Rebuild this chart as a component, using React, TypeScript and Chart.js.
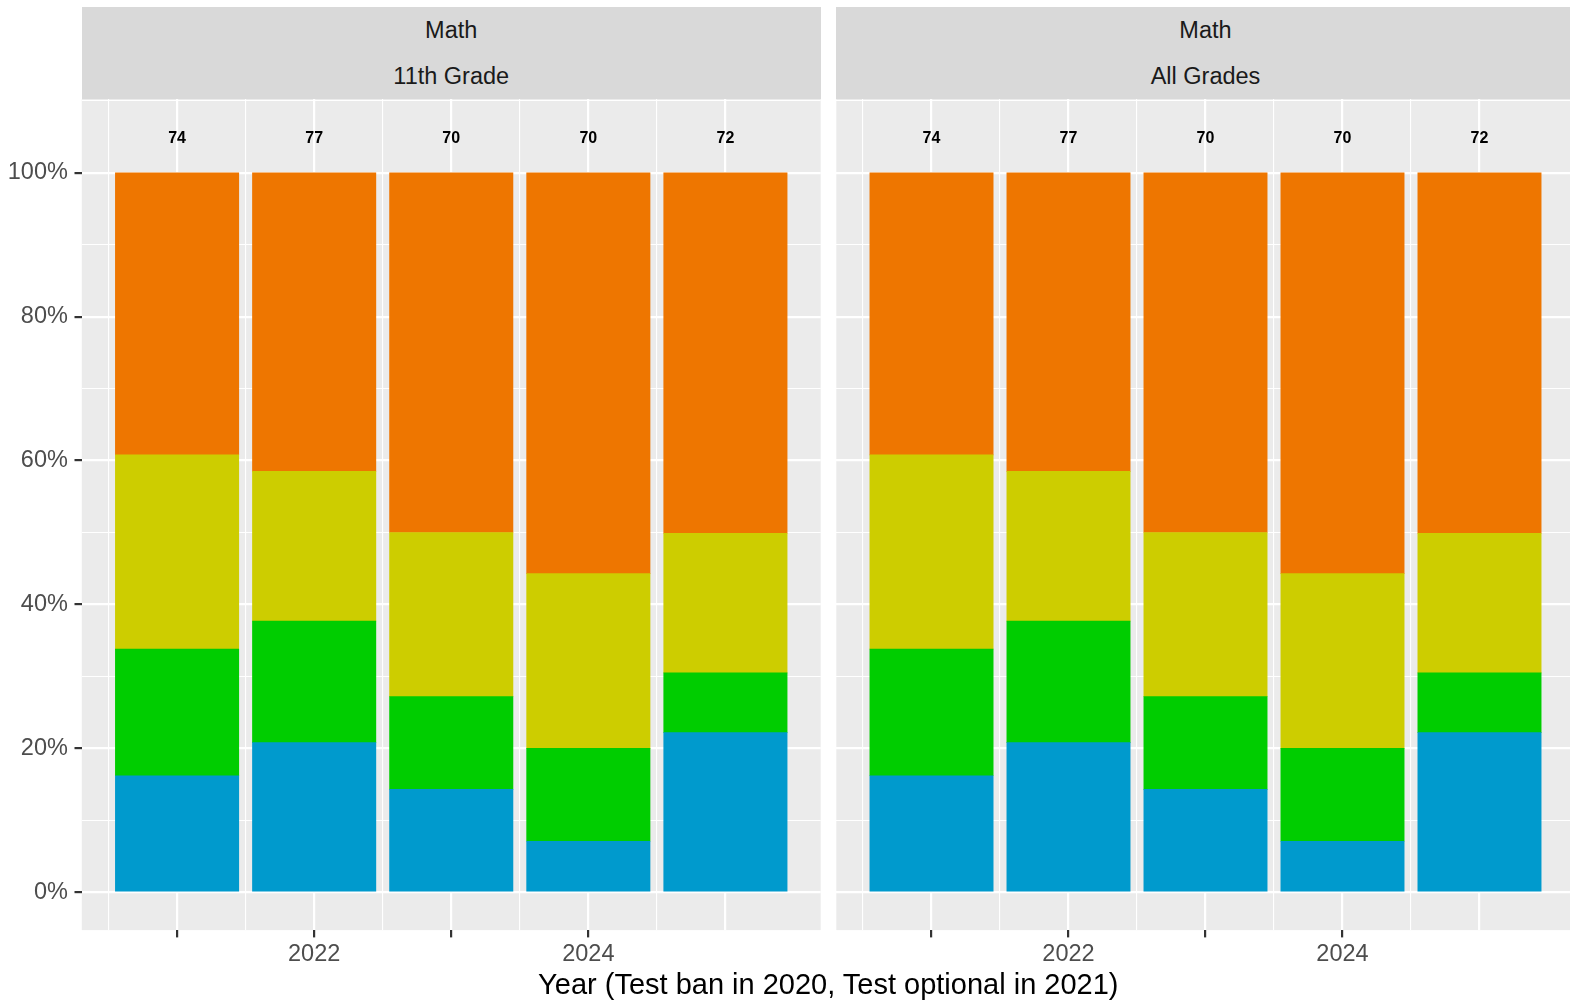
import React, { useEffect, useRef } from 'react';
import { Chart, registerables } from 'chart.js';

Chart.register(...registerables);

// ---- Data ----
const years = [2021, 2022, 2023, 2024, 2025];
const counts = [74, 77, 70, 70, 72];
const blueShare = [16.2, 20.8, 14.3, 7.1, 22.2];
const greenShare = [17.6, 16.9, 12.9, 12.9, 8.3];
const yellowShare = [27.0, 20.8, 22.8, 24.3, 19.4];
const orangeShare = [39.2, 41.5, 50.0, 55.7, 50.1];
const seriesColors = ['#009ACD', '#00CD00', '#CDCD00', '#EE7600'];
const facetTop = ['Math', 'Math'];
const facetBottom = ['11th Grade', 'All Grades'];
const xLabelYears = [2022, 2024];
const xTickYears = [2021, 2022, 2023, 2024];
const yMajor = [0, 20, 40, 60, 80, 100];
const yMinor = [10, 30, 50, 70, 90, 110];
const xMajor = [2021, 2022, 2023, 2024, 2025];
const xMinor = [2020.5, 2021.5, 2022.5, 2023.5, 2024.5];
const xTitle = 'Year (Test ban in 2020, Test optional in 2021)';

const FONT = "'Liberation Sans', Arial, Helvetica, sans-serif";

type PanelProps = {
  left: number;
  top: number;
  width: number;
  height: number;
  yAxisWidth: number;
  padRight: number;
  padTop: number;
  xAxisHeight: number;
  showY: boolean;
};

function Panel(p: PanelProps) {
  const ref = useRef<HTMLCanvasElement | null>(null);
  useEffect(() => {
    if (!ref.current) return;
    const shares = [blueShare, greenShare, yellowShare, orangeShare];
    const datasets = shares.map((arr, i) => ({
      label: 's' + i,
      data: years.map((y, j) => ({ x: y, y: arr[j] })),
      backgroundColor: seriesColors[i],
      borderWidth: 0,
      barThickness: 'flex',
      barPercentage: 0.9,
      categoryPercentage: 1.0,
    }));
    const bgPlugin = {
      id: 'panelBg',
      beforeDraw(chart: any) {
        const { ctx, chartArea } = chart;
        ctx.save();
        ctx.fillStyle = '#EBEBEB';
        ctx.fillRect(chartArea.left, chartArea.top, chartArea.right - chartArea.left, chartArea.bottom - chartArea.top);
        ctx.restore();
      },
    };
    const countPlugin = {
      id: 'counts',
      afterDatasetsDraw(chart: any) {
        const { ctx } = chart;
        const xs = chart.scales.x;
        const ys = chart.scales.y;
        ctx.save();
        ctx.fillStyle = '#000000';
        ctx.font = `bold 16px ${FONT}`;
        ctx.textAlign = 'center';
        ctx.textBaseline = 'alphabetic';
        years.forEach((yr, i) => {
          ctx.fillText(String(counts[i]), xs.getPixelForValue(yr), ys.getPixelForValue(105) + 6.2);
        });
        ctx.restore();
      },
    };
    const chart = new Chart(ref.current, {
      type: 'bar',
      data: { datasets: datasets as any },
      plugins: [bgPlugin, countPlugin],
      options: {
        animation: false,
        responsive: false,
        maintainAspectRatio: false,
        layout: { padding: { left: 0, right: p.padRight, top: p.padTop, bottom: 0 } },
        plugins: { legend: { display: false }, tooltip: { enabled: false } },
        scales: {
          x: {
            type: 'linear',
            stacked: true,
            offset: false,
            min: 2020.305,
            max: 2025.695,
            border: { display: false },
            afterBuildTicks: (scale: any) => {
              scale.ticks = [...xMinor, ...xMajor].sort((a, b) => a - b).map((v) => ({ value: v }));
            },
            afterFit: (scale: any) => {
              scale.height = p.xAxisHeight;
            },
            grid: {
              offset: false,
              color: '#FFFFFF',
              lineWidth: (c: any) => (Number.isInteger(c.tick?.value) ? 2.2 : 1.1),
              tickColor: (c: any) => (xTickYears.includes(c.tick?.value) ? '#333333' : 'rgba(0,0,0,0)'),
              tickWidth: 2.2,
              tickLength: 7.3,
              drawTicks: true,
            },
            ticks: {
              autoSkip: false,
              maxRotation: 0,
              minRotation: 0,
              padding: 3,
              color: '#4D4D4D',
              font: { family: FONT, size: 23.5 },
              callback: (v: any) => (xLabelYears.includes(Number(v)) ? String(v) : ''),
            },
          },
          y: {
            type: 'linear',
            stacked: true,
            min: -5.25,
            max: 110.25,
            border: { display: false },
            afterBuildTicks: (scale: any) => {
              scale.ticks = [...yMajor, ...yMinor].sort((a, b) => a - b).map((v) => ({ value: v }));
            },
            afterFit: (scale: any) => {
              scale.width = p.yAxisWidth;
            },
            grid: {
              color: '#FFFFFF',
              lineWidth: (c: any) => (yMajor.includes(c.tick?.value) ? 2.2 : 1.1),
              tickColor: (c: any) => (p.showY && yMajor.includes(c.tick?.value) ? '#333333' : 'rgba(0,0,0,0)'),
              tickWidth: 2.2,
              tickLength: 7.3,
              drawTicks: true,
            },
            ticks: {
              autoSkip: false,
              padding: 6.6,
              color: '#4D4D4D',
              font: { family: FONT, size: 23.5 },
              callback: (v: any) => (p.showY && yMajor.includes(Number(v)) ? `${v}%` : ''),
            },
          },
        },
      } as any,
    });
    return () => chart.destroy();
  }, []);
  return (
    <canvas
      ref={ref}
      width={p.width}
      height={p.height}
      style={{ position: 'absolute', left: p.left, top: p.top, width: p.width, height: p.height }}
    />
  );
}

function Strip({ left, width, idx }: { left: number; width: number; idx: number }) {
  const row: React.CSSProperties = {
    height: 46,
    lineHeight: '46px',
    textAlign: 'center',
    fontSize: 23.5,
    color: '#1A1A1A',
    fontFamily: FONT,
    whiteSpace: 'nowrap',
  };
  return (
    <div style={{ position: 'absolute', left, top: 7, width, height: 92, background: '#D9D9D9' }}>
      <div style={row}>{facetTop[idx]}</div>
      <div style={row}>{facetBottom[idx]}</div>
    </div>
  );
}

export default function App() {
  return (
    <div
      style={{
        position: 'absolute',
        left: 0,
        top: 0,
        width: 1570,
        height: 1004,
        overflow: 'hidden',
        background: '#FFFFFF',
        fontFamily: FONT,
      }}
    >
      <Panel left={0} top={68.5} width={822} height={935.5} yAxisWidth={81.8} padRight={1.3} padTop={30} xAxisHeight={73.9} showY={true} />
      <Panel left={828} top={68.5} width={760} height={935.5} yAxisWidth={8.3} padRight={13.3} padTop={30} xAxisHeight={73.9} showY={false} />
      <Strip left={81.8} width={738.9} idx={0} />
      <Strip left={836.3} width={738.4} idx={1} />
      <div
        style={{
          position: 'absolute',
          left: 81.8,
          width: 1493,
          top: 963.5,
          height: 40,
          lineHeight: '40px',
          textAlign: 'center',
          fontSize: 29,
          color: '#000000',
          fontFamily: FONT,
          whiteSpace: 'nowrap',
        }}
      >
        {xTitle}
      </div>
    </div>
  );
}
